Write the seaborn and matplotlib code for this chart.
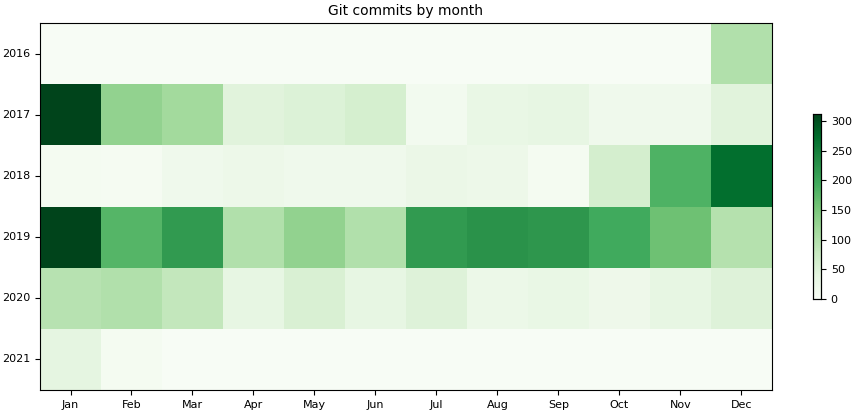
import matplotlib
matplotlib.use('Agg')
import matplotlib.pyplot as plt
import seaborn as sns
import pandas as pd

years = ['2016', '2017', '2018', '2019', '2020', '2021']
months = ['Jan', 'Feb', 'Mar', 'Apr', 'May', 'Jun', 'Jul', 'Aug', 'Sep', 'Oct', 'Nov', 'Dec']
c2016 = [0, 0, 0, 0, 0, 0, 0, 0, 0, 0, 0, 100]
c2017 = [312, 130, 115, 45, 50, 60, 12, 30, 35, 18, 18, 45]
c2018 = [8, 5, 18, 22, 18, 18, 28, 22, 8, 62, 185, 270]
c2019 = [312, 180, 215, 100, 130, 100, 215, 225, 220, 195, 160, 97]
c2020 = [95, 100, 82, 35, 55, 35, 48, 25, 30, 20, 35, 48]
c2021 = [38, 8, 0, 0, 0, 0, 0, 0, 0, 0, 0, 0]

df = pd.DataFrame([c2016, c2017, c2018, c2019, c2020, c2021], index=years, columns=months)

fig = plt.figure(figsize=(8.54, 4.13), dpi=100)
ax = fig.add_axes([40/854, 23/413, 732/854, 367/413])
cax = fig.add_axes([813/854, 114/413, 8/854, 185/413])
sns.heatmap(df, cmap='Greens', vmin=0, vmax=312, ax=ax, cbar_ax=cax)
ax.set_title('Git commits by month', fontsize=10)
ax.tick_params(axis='both', labelsize=8)
ax.tick_params(axis='y', rotation=0)
cax.tick_params(labelsize=8)
cax.set_yticks([0, 50, 100, 150, 200, 250, 300])
for s in cax.spines.values():
    s.set_visible(True)
    s.set_linewidth(0.8)
for s in ax.spines.values():
    s.set_visible(True)
    s.set_linewidth(0.8)
fig.savefig('out.png', dpi=100)
